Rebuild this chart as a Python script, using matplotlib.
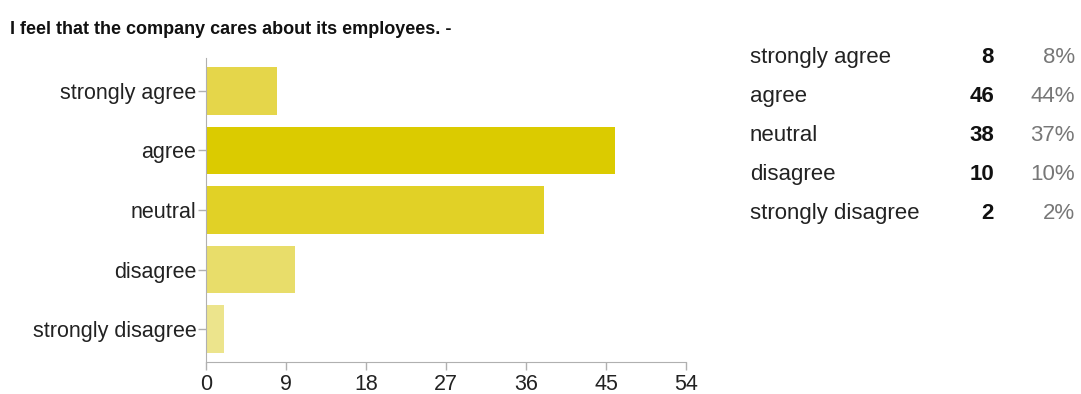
import matplotlib
matplotlib.use('Agg')
import matplotlib.pyplot as plt

# survey answers and counts
answers = ['strongly agree', 'agree', 'neutral', 'disagree', 'strongly disagree']
counts = [8, 46, 38, 10, 2]
percents = ['8%', '44%', '37%', '10%', '2%']
bar_colors = ['#e5d64a', '#dbcb00', '#e1d126', '#e8dd6a', '#ece48c']
xticks = [0, 9, 18, 27, 36, 45, 54]

plt.rcParams['font.family'] = ['Liberation Sans', 'DejaVu Sans']

fig = plt.figure(figsize=(10.81, 3.94), dpi=100)
ax = fig.add_axes([206 / 1081, 32 / 394, 480 / 1081, 304 / 394])

pos = list(range(len(answers)))
ax.barh(pos, counts, height=0.8, color=bar_colors)
ax.set_ylim(len(answers) - 0.45, -0.55)
ax.set_xlim(0, 54)
ax.set_xticks(xticks)
ax.set_yticks(pos)
ax.set_yticklabels(answers)

for side in ['top', 'right']:
    ax.spines[side].set_visible(False)
for side in ['left', 'bottom']:
    ax.spines[side].set_color('#b0b0b0')
ax.tick_params(axis='both', colors='#b0b0b0', labelcolor='#222222',
               labelsize=15.5, length=6, width=1)
ax.tick_params(axis='y', pad=1)
ax.tick_params(axis='x', pad=3)

fig.text(10 / 1081, 1 - 34 / 394, 'I feel that the company cares about its employees. -',
         fontsize=13, fontweight='bold', color='#111111', va='baseline')

# summary table on the right, rows placed on their baselines
row_y = [63, 102, 141, 180, 219]
for name, n, pct, y in zip(answers, counts, percents, row_y):
    fy = 1 - y / 394
    fig.text(750 / 1081, fy, name, fontsize=16, color='#222222', va='baseline')
    fig.text(994 / 1081, fy, str(n), fontsize=16, fontweight='bold',
             color='#111111', va='baseline', ha='right')
    fig.text(1075 / 1081, fy, pct, fontsize=16, color='#777777',
             va='baseline', ha='right')

fig.savefig('out.png', dpi=100)
